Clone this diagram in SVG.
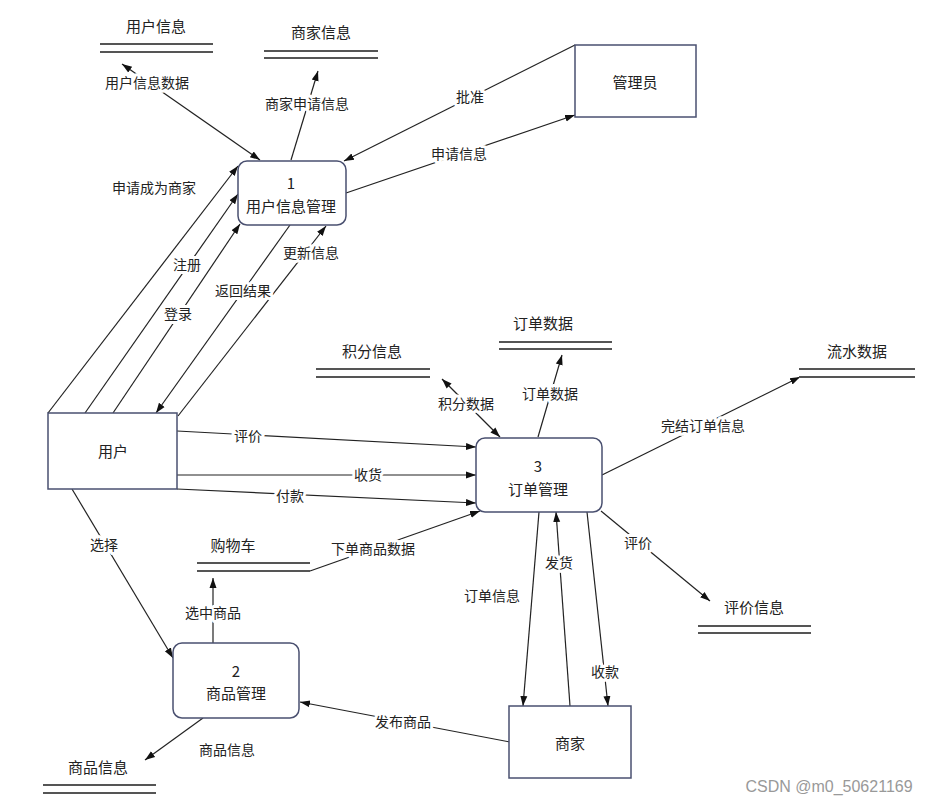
<svg xmlns="http://www.w3.org/2000/svg" width="933" height="804" viewBox="0 0 933 804">
<style>
text{font-family:"Noto Sans CJK SC","Noto Sans",sans-serif;fill:#222;text-anchor:middle;dominant-baseline:central}
.nt{font-size:15px}
.st{font-size:15px}
.lbl{font-size:14px;paint-order:stroke;stroke:#fff;stroke-width:6px;stroke-linejoin:round}
.box{fill:#fff;stroke:#4a5070;stroke-width:1.5}
.store line{stroke:#555;stroke-width:2}
.conn line{stroke:#222;stroke-width:1.2;fill:none;marker-end:url(#arr)}
.conn line.bi{marker-start:url(#arr)}
.wm{font-family:"Liberation Sans",Arial,sans-serif;font-size:16px;fill:#999}
</style>
<defs>
<marker id="arr" viewBox="0 0 10 10" refX="10" refY="5" markerWidth="10" markerHeight="10" markerUnits="userSpaceOnUse" orient="auto-start-reverse">
<path d="M0,1.5 L10,5 L0,8.5 Z" fill="#111"/>
</marker>
</defs>
<rect width="933" height="804" fill="#fff"/>

<g id="connectors" class="conn">
<line class="bi" x1="122" y1="64" x2="260" y2="160"/>
<line x1="291" y1="160" x2="318" y2="71"/>
<line x1="575" y1="45" x2="344" y2="161"/>
<line x1="346" y1="193" x2="575" y2="115"/>
<line x1="48" y1="413" x2="238" y2="166"/>
<line x1="85" y1="413" x2="238" y2="194"/>
<line x1="113" y1="413" x2="240" y2="224"/>
<line x1="290" y1="225" x2="156" y2="413"/>
<line x1="178" y1="416" x2="326" y2="226"/>
<line x1="177" y1="431" x2="476" y2="447"/>
<line x1="177" y1="475" x2="476" y2="475"/>
<line x1="177" y1="489" x2="476" y2="503"/>
<line class="bi" x1="442" y1="379" x2="500" y2="437"/>
<line x1="538" y1="437" x2="562" y2="355"/>
<line x1="602" y1="475" x2="800" y2="377"/>
<line x1="601" y1="511" x2="710" y2="601"/>
<line x1="539" y1="512" x2="523" y2="706"/>
<line x1="570" y1="706" x2="556" y2="512"/>
<line x1="587" y1="512" x2="608" y2="706"/>
<line x1="310" y1="571" x2="480" y2="511"/>
<line x1="213" y1="643" x2="213" y2="578"/>
<line x1="72" y1="489" x2="173" y2="658"/>
<line x1="203" y1="718" x2="145" y2="760"/>
<line x1="510" y1="742" x2="300" y2="702"/>
</g>

<g id="labels">
<text class="lbl" x="147" y="82">用户信息数据</text>
<text class="lbl" x="307" y="103">商家申请信息</text>
<text class="lbl" x="470" y="96">批准</text>
<text class="lbl" x="459" y="153">申请信息</text>
<text class="lbl" x="154" y="187">申请成为商家</text>
<text class="lbl" x="187" y="264">注册</text>
<text class="lbl" x="178" y="313">登录</text>
<text class="lbl" x="243" y="290">返回结果</text>
<text class="lbl" x="311" y="252">更新信息</text>
<text class="lbl" x="248" y="435">评价</text>
<text class="lbl" x="368" y="474">收货</text>
<text class="lbl" x="290" y="495">付款</text>
<text class="lbl" x="466" y="403">积分数据</text>
<text class="lbl" x="550" y="393">订单数据</text>
<text class="lbl" x="703" y="425">完结订单信息</text>
<text class="lbl" x="638" y="542">评价</text>
<text class="lbl" x="492" y="595">订单信息</text>
<text class="lbl" x="559" y="562">发货</text>
<text class="lbl" x="605" y="671">收款</text>
<text class="lbl" x="373" y="548">下单商品数据</text>
<text class="lbl" x="213" y="612">选中商品</text>
<text class="lbl" x="104" y="544">选择</text>
<text class="lbl" x="227" y="749">商品信息</text>
<text class="lbl" x="403" y="721">发布商品</text>
</g>

<g id="store-user" class="store">
<line x1="100" y1="44" x2="213" y2="44"/><line x1="100" y1="52" x2="213" y2="52"/>
<text class="st" x="156" y="25">用户信息</text>
</g>
<g id="store-merchant" class="store">
<line x1="264" y1="51" x2="378" y2="51"/><line x1="264" y1="58" x2="378" y2="58"/>
<text class="st" x="321" y="31">商家信息</text>
</g>
<g id="store-points" class="store">
<line x1="316" y1="369" x2="430" y2="369"/><line x1="316" y1="377" x2="430" y2="377"/>
<text class="st" x="372" y="350">积分信息</text>
</g>
<g id="store-order" class="store">
<line x1="499" y1="342" x2="612" y2="342"/><line x1="499" y1="349" x2="612" y2="349"/>
<text class="st" x="543" y="322">订单数据</text>
</g>
<g id="store-flow" class="store">
<line x1="799" y1="369" x2="915" y2="369"/><line x1="799" y1="377" x2="915" y2="377"/>
<text class="st" x="857" y="350">流水数据</text>
</g>
<g id="store-review" class="store">
<line x1="698" y1="626" x2="811" y2="626"/><line x1="698" y1="633" x2="811" y2="633"/>
<text class="st" x="754" y="606">评价信息</text>
</g>
<g id="store-cart" class="store">
<line x1="197" y1="563" x2="310" y2="563"/><line x1="197" y1="571" x2="310" y2="571"/>
<text class="st" x="233" y="544">购物车</text>
</g>
<g id="store-goods" class="store">
<line x1="43" y1="785" x2="156" y2="785"/><line x1="43" y1="793" x2="156" y2="793"/>
<text class="st" x="98" y="766">商品信息</text>
</g>

<g id="p1">
<rect class="box" x="238" y="161" width="108" height="64" rx="9"/>
<text class="nt" x="291" y="182">1</text>
<text class="nt" x="291" y="205">用户信息管理</text>
</g>
<g id="p2">
<rect class="box" x="173" y="643" width="126" height="75" rx="9"/>
<text class="nt" x="236" y="670">2</text>
<text class="nt" x="236" y="692">商品管理</text>
</g>
<g id="p3">
<rect class="box" x="476" y="438" width="126" height="74" rx="9"/>
<text class="nt" x="538" y="465">3</text>
<text class="nt" x="538" y="488">订单管理</text>
</g>
<g id="admin">
<rect class="box" x="575" y="45" width="121" height="72"/>
<text class="nt" x="635" y="81">管理员</text>
</g>
<g id="user">
<rect class="box" x="48" y="413" width="129" height="76"/>
<text class="nt" x="113" y="450">用户</text>
</g>
<g id="merchant">
<rect class="box" x="509" y="706" width="122" height="72"/>
<text class="nt" x="570" y="742">商家</text>
</g>

<text class="wm" x="829" y="786">CSDN @m0_50621169</text>
</svg>
